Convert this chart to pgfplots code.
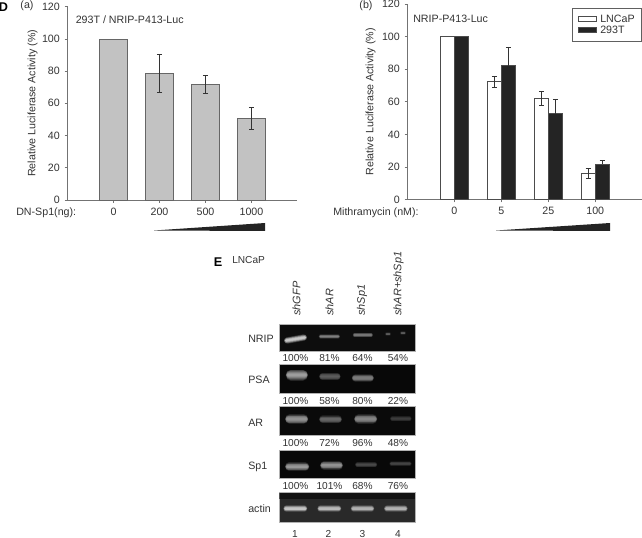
\documentclass[border=0pt]{standalone}
\usepackage{pgfplots}
\pgfplotsset{compat=1.18}
\usepackage{fontspec}
\setmainfont{Liberation Sans}
\definecolor{axc}{gray}{0.45}
\definecolor{txt}{gray}{0.2}
\definecolor{barg}{gray}{0.76}
\definecolor{bark}{gray}{0.14}
\pgfplotsset{
  panel/.style={
    scale only axis, anchor=south west, axis line style={axc,line width=0.6pt},
    ymin=0,ymax=120,ytick={0,20,...,120},
    xmin=0,xmax=5,xtick={1,2,3,4},
    axis x line*=bottom, axis y line*=left,
    tick style={axc,line width=0.5pt},
    tick align=outside, major tick length=2.2pt,
    /pgf/number format/assume math mode=true,
    tick label style={font=\fontsize{8}{9}\selectfont,text=txt},
    ylabel={Relative Luciferase Activity (\%)},
    ylabel style={font=\fontsize{8}{9}\selectfont,text=txt},
    xtick pos=bottom, ytick pos=left,
    clip=false,
  },
  px/.style={scale only axis, anchor=south west, at={(0,0)}, width=481.5pt, height=403.5pt,
    xmin=0,xmax=642,ymin=0,ymax=538,y dir=reverse, hide axis, clip=false},
  eb/.style={error bars/.cd,y dir=both,y explicit,error bar style={txt,line width=0.5pt},error mark options={rotate=90,mark size=1.9pt,txt}},
  ebp/.style={error bars/.cd,y dir=plus,y explicit,error bar style={gray!40!black,line width=0.5pt},error mark options={rotate=90,mark size=1.9pt,gray!40!black}},
}
\newcommand{\layer}[8]{% x1 x2 y1 y2 h peak fraction opacity
  \pgfmathsetmacro\xa{min(#1+#7*#5/2+(1-#7)*1.5,(#1+#2)/2-0.1)}
  \pgfmathsetmacro\xb{max(#2-#7*#5/2-(1-#7)*1.5,(#1+#2)/2+0.1)}
  \addplot[line width=#5*#7*0.75pt,line cap=round,color=white!#6!black,opacity=#8,forget plot] coordinates {(\xa,#3)(\xb,#4)};
}
\newcommand{\bandt}[6]{%
  \layer{#1}{#2}{#3}{#4}{#5}{#6}{1}{0.18}
  \layer{#1}{#2}{#3}{#4}{#5}{#6}{0.85}{0.25}
  \layer{#1}{#2}{#3}{#4}{#5}{#6}{0.7}{0.3}
  \layer{#1}{#2}{#3}{#4}{#5}{#6}{0.55}{0.4}
  \layer{#1}{#2}{#3}{#4}{#5}{#6}{0.4}{0.5}
  \layer{#1}{#2}{#3}{#4}{#5}{#6}{0.25}{0.6}
}
\newcommand{\band}[5]{\bandt{#1}{#2}{#3}{#3}{#4}{#5}}
\newcommand{\gel}[3]{% top bottom gray
  \addplot[draw=gray!60,line width=0.4pt,fill=black!#3,forget plot] coordinates {(279,#1)(415,#1)(415,#2)(279,#2)} -- cycle;
}
\begin{document}
\begin{tikzpicture}[x=0.75pt,y=0.75pt]
% Panel a
\begin{axis}[panel, at={(67.5pt*0.75,338pt*0.75)}, width=172.5pt, height=145pt,
  xticklabels={0,200,500,1000}, ylabel style={yshift=-3.5pt},
  bar width=21pt]
\addplot[ybar,bar shift=0pt,fill=barg,draw=gray!80!black,line width=0.5pt]
  coordinates {(1,100)};
\addplot[ybar,bar shift=0pt,fill=barg,draw=gray!80!black,line width=0.5pt,eb]
  coordinates {(2,78.5) +- (0,11.8) (3,71.7) +- (0,5.6) (4,50.8) +- (0,6.6)};
\end{axis}
% Panel b
\begin{axis}[panel, at={(407.5pt*0.75,338.5pt*0.75)}, width=176pt, height=146.5pt,
  xticklabels={0,5,25,100}, ylabel style={yshift=-2pt},
  bar width=10.5pt]
\addplot[ybar,bar shift=0pt,fill=white,draw=gray!60!black,line width=0.5pt]
  coordinates {(0.851,100)};
\addplot[ybar,bar shift=0pt,fill=white,draw=gray!60!black,line width=0.5pt,eb]
  coordinates {(1.851,72.5) +- (0,3.3) (2.851,62) +- (0,4.3) (3.851,16) +- (0,3)};
\addplot[ybar,bar shift=0pt,fill=bark,draw=gray!60!black,line width=0.5pt]
  coordinates {(1.149,100)};
\addplot[ybar,bar shift=0pt,fill=bark,draw=gray!60!black,line width=0.5pt,ebp]
  coordinates {(2.149,82.2) +- (0,11.5) (3.149,52.8) +- (0,8.6) (4.149,21.6) +- (0,2.5)};
\end{axis}
% Overlay in px units
\begin{axis}[px]
% legend
\addplot[draw=gray!75!black,line width=0.5pt,fill=white,forget plot] coordinates {(572,8)(641.6,8)(641.6,41)(572,41)} -- cycle;
\addplot[draw=gray!60!black,line width=0.5pt,fill=white,forget plot] coordinates {(578,16.5)(596,16.5)(596,21.5)(578,21.5)} -- cycle;
\addplot[draw=gray!60!black,line width=0.5pt,fill=bark,forget plot] coordinates {(578,27.5)(596,27.5)(596,32.5)(578,32.5)} -- cycle;
% wedges
\addplot[fill=bark,draw=none,forget plot] coordinates {(154,230.5)(265,223)(265,231)} -- cycle;
\addplot[fill=bark,draw=none,forget plot] coordinates {(496,230.5)(610,223)(610,231)} -- cycle;
% gels
\gel{324}{351.3}{95}
\gel{364}{393.3}{97}
\gel{406.7}{435}{96}
\gel{450.3}{478.7}{97}
\gel{492.5}{522.5}{84}
\addplot[fill=black,opacity=0.55,draw=none,forget plot] coordinates {(279.3,493)(414.7,493)(414.7,499)(279.3,499)} -- cycle;
% NRIP
\bandt{284}{307}{340.5}{337.5}{6.5}{82}
\band{318.7}{340}{336.5}{4.5}{52}
\band{352.7}{373}{335}{4.5}{48}
\band{385}{391}{334}{3.5}{38}
\band{400}{406}{333}{3.5}{38}
% PSA
\band{285.7}{308}{375}{11}{65}
\band{319}{340.7}{376.5}{7.5}{38}
\band{351.7}{374}{378}{8}{50}
% AR
\band{285}{308.3}{419}{10}{60}
\band{319}{342}{419.3}{8}{42}
\band{354}{377.3}{419}{9.5}{55}
\band{390}{411.7}{418.7}{5.5}{25}
% Sp1
\band{285}{309.3}{466.7}{8.5}{62}
\band{320}{343}{465.3}{8.5}{60}
\band{355}{377.3}{464.7}{5.5}{30}
\band{389.3}{411.7}{463.7}{5}{28}
% actin
\band{283.3}{307.3}{508.7}{6.5}{80}
\band{317.3}{341.3}{508.7}{6.5}{75}
\band{350.7}{374.3}{508.7}{6.5}{72}
\band{384}{407.7}{508.7}{6.5}{72}
\end{axis}
% Texts
\tikzset{t/.style={font=\fontsize{8}{9}\selectfont,text=txt,inner sep=0pt}, s/.style={font=\fontsize{7.6}{9}\selectfont,text=txt,inner sep=0pt}}
\def\P(#1,#2){(#1,{538-(#2)})}
\node[font=\bfseries\fontsize{9.5}{10}\selectfont,inner sep=0pt] at \P(3.5,7) {D};
\node[t] at \P(27,6) {(a)};
\node[t] at \P(366,6) {(b)};
\node[t,anchor=west] at \P(75.5,20) {293T / NRIP-P413-Luc};
\node[t,anchor=west] at \P(413,18.5) {NRIP-P413-Luc};
\node[t,anchor=west] at \P(600,18.5) {LNCaP};
\node[t,anchor=west] at \P(600,29.5) {293T};
\node[t,anchor=west] at \P(16,213) {DN-Sp1(ng):};
\node[t,anchor=west] at \P(333,213) {Mithramycin (nM):};
\node[font=\bfseries\fontsize{9.5}{10}\selectfont,inner sep=0pt] at \P(218,262) {E};
\node[s,anchor=west] at \P(232,260) {LNCaP};
\foreach \x/\l in {296.5/shGFP,329.5/shAR,362/shSp1,398.5/shAR+shSp1}
  \node[font=\fontsize{8.2}{9}\selectfont,text=txt,inner sep=0pt,anchor=west,rotate=90] at \P(\x,316) {\itshape\l};
\foreach \y/\l in {339/NRIP,380/PSA,423/AR,466.5/Sp1,508.5/actin}
  \node[t,anchor=west] at \P(248,\y) {\l};
\foreach \y/\a/\b/\c/\d in {358.5/100/81/64/54,400.7/100/58/80/22,443/100/72/96/48,486.3/100/101/68/76}{
  \node[s] at \P(295.5,\y) {\a\%};
  \node[s] at \P(329.5,\y) {\b\%};
  \node[s] at \P(362.5,\y) {\c\%};
  \node[s] at \P(398,\y) {\d\%};
}
\foreach \x/\l in {295/1,328.5/2,362.5/3,398/4}
  \node[s] at \P(\x,534) {\l};
\pgfresetboundingbox
\path[use as bounding box] (0,0) rectangle (642,538);
\end{tikzpicture}
\end{document}
